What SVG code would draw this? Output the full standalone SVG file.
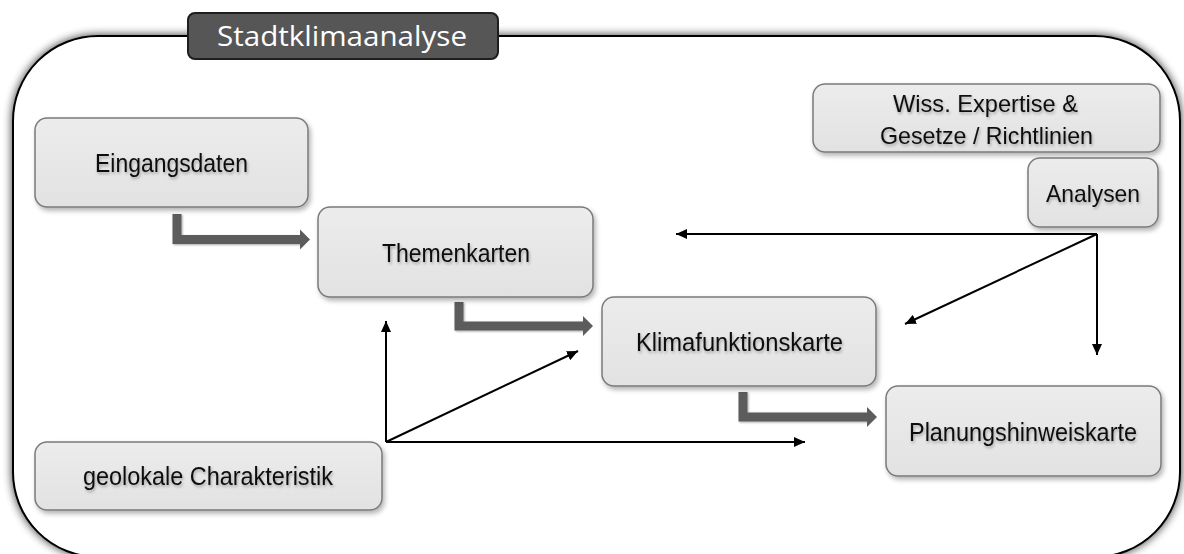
<svg xmlns="http://www.w3.org/2000/svg" width="1184" height="554" viewBox="0 0 1184 554">
  <defs>
    <style>
      .node rect { fill: url(#boxFill); stroke: #7a7a7a; stroke-width: 1.5; filter: url(#boxShadow); }
      .node text { font-family: "Liberation Sans Narrow", "Liberation Sans", Arial, sans-serif; font-size: 25.5px; fill: #111; text-anchor: middle; filter: url(#textShadow); }
      .node text.small { font-size: 24px; }
      .elbow { fill: none; stroke: #5c5c5c; stroke-width: 9; stroke-linejoin: miter; stroke-linecap: butt; filter: url(#elbowShadow); }
      .elbow-head { fill: #5c5c5c; }
      .thin { fill: none; stroke: #000; stroke-width: 2; marker-end: url(#tip); }
    </style>
    <linearGradient id="boxFill" x1="0" y1="0" x2="0" y2="1">
      <stop offset="0" stop-color="#ececec"/>
      <stop offset="1" stop-color="#e2e2e2"/>
    </linearGradient>
    <filter id="frameShadow" x="-5%" y="-10%" width="110%" height="120%">
      <feGaussianBlur in="SourceAlpha" stdDeviation="5" result="b"/>
      <feComponentTransfer in="b" result="s"><feFuncA type="linear" slope="0.8"/></feComponentTransfer>
      <feMerge><feMergeNode in="s"/><feMergeNode in="SourceGraphic"/></feMerge>
    </filter>
    <filter id="boxShadow" x="-10%" y="-15%" width="125%" height="140%">
      <feGaussianBlur in="SourceAlpha" stdDeviation="2.5" result="b"/>
      <feOffset in="b" dx="2" dy="3" result="o"/>
      <feComponentTransfer in="o" result="s"><feFuncA type="linear" slope="0.3"/></feComponentTransfer>
      <feMerge><feMergeNode in="s"/><feMergeNode in="SourceGraphic"/></feMerge>
    </filter>
    <filter id="textShadow" x="-10%" y="-30%" width="120%" height="170%">
      <feGaussianBlur in="SourceAlpha" stdDeviation="1.5" result="b"/>
      <feOffset in="b" dx="1" dy="2" result="o"/>
      <feComponentTransfer in="o" result="s"><feFuncA type="linear" slope="0.3"/></feComponentTransfer>
      <feMerge><feMergeNode in="s"/><feMergeNode in="SourceGraphic"/></feMerge>
    </filter>
    <filter id="elbowShadow" x="-10%" y="-20%" width="130%" height="150%">
      <feGaussianBlur in="SourceAlpha" stdDeviation="1" result="b"/>
      <feOffset in="b" dx="1" dy="1" result="o"/>
      <feComponentTransfer in="o" result="s"><feFuncA type="linear" slope="0.35"/></feComponentTransfer>
      <feMerge><feMergeNode in="s"/><feMergeNode in="SourceGraphic"/></feMerge>
    </filter>
    <marker id="tip" markerUnits="userSpaceOnUse" markerWidth="12" markerHeight="10" refX="11" refY="5" orient="auto">
      <path d="M0,0 L11,5 L0,10 Z" fill="#000"/>
    </marker>
  </defs>

  <rect width="1184" height="554" fill="#fff"/>

  <!-- outer frame -->
  <g id="frame">
    <rect x="13" y="36" width="1167" height="521" rx="85" ry="85" fill="#fff" stroke="#000" stroke-width="2" filter="url(#frameShadow)"/>
  </g>

  <!-- title tab -->
  <g id="title">
    <rect x="188" y="13" width="310" height="46" rx="7" fill="#565656" stroke="#1e1e1e" stroke-width="2"/>
    <text x="342" y="46" font-family="'Open Sans', 'Noto Sans', sans-serif" font-size="28" fill="#fff" text-anchor="middle" textLength="250" lengthAdjust="spacingAndGlyphs">Stadtklimaanalyse</text>
  </g>

  <!-- connectors -->
  <g id="connectors">
    <path class="elbow" d="M177,214 V239.5 H301"/>
    <polygon class="elbow-head" points="300,229.5 310,239.5 300,249.5"/>
    <path class="elbow" d="M459,302 V326 H584"/>
    <polygon class="elbow-head" points="583,316 593,326 583,336"/>
    <path class="elbow" d="M743,392 V417 H868"/>
    <polygon class="elbow-head" points="867,407 877,417 867,427"/>

    <path class="thin" d="M1097,234 H676"/>
    <path class="thin" d="M1097,234 L905,324"/>
    <path class="thin" d="M1097,234 V355"/>
    <path class="thin" d="M386,442 V321"/>
    <path class="thin" d="M386,442 L578,351"/>
    <path class="thin" d="M386,442 H805"/>
  </g>

  <g id="eingangsdaten" class="node">
    <rect x="35" y="118" width="273" height="89" rx="12"/>
    <text x="171.5" y="172" textLength="153" lengthAdjust="spacingAndGlyphs">Eingangsdaten</text>
  </g>
  <g id="themenkarten" class="node">
    <rect x="318" y="207" width="275" height="90" rx="12"/>
    <text x="456" y="262" textLength="148" lengthAdjust="spacingAndGlyphs">Themenkarten</text>
  </g>
  <g id="expertise" class="node">
    <rect x="813" y="84" width="347" height="68" rx="12"/>
    <text class="small" x="985.5" y="112" textLength="185" lengthAdjust="spacingAndGlyphs">Wiss. Expertise &amp;</text>
    <text class="small" x="986.5" y="144" textLength="213" lengthAdjust="spacingAndGlyphs">Gesetze / Richtlinien</text>
  </g>
  <g id="analysen" class="node">
    <rect x="1028" y="158" width="130" height="69" rx="12"/>
    <text class="small" x="1093" y="202" textLength="94" lengthAdjust="spacingAndGlyphs">Analysen</text>
  </g>
  <g id="klimafunktionskarte" class="node">
    <rect x="602" y="297" width="274" height="89" rx="12"/>
    <text x="739.5" y="351" textLength="207" lengthAdjust="spacingAndGlyphs">Klimafunktionskarte</text>
  </g>
  <g id="planungshinweiskarte" class="node">
    <rect x="886" y="386" width="275" height="90" rx="12"/>
    <text x="1023" y="441" textLength="228" lengthAdjust="spacingAndGlyphs">Planungshinweiskarte</text>
  </g>
  <g id="geolokal" class="node">
    <rect x="35" y="442" width="347" height="68" rx="12"/>
    <text x="208" y="485" textLength="250" lengthAdjust="spacingAndGlyphs">geolokale Charakteristik</text>
  </g>
</svg>
